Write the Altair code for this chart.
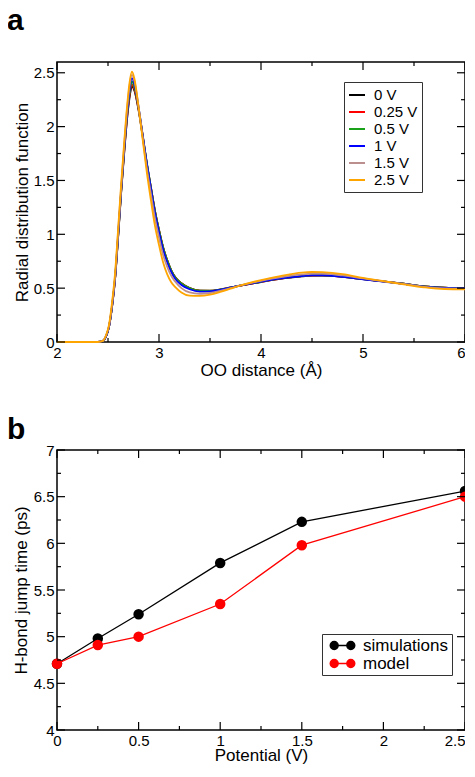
import altair as alt
import pandas as pd

FONT = "Liberation Sans"

# ---------------- panel a: radial distribution functions ----------------
r = [2.0, 2.4, 2.45, 2.48, 2.51, 2.54, 2.57, 2.6, 2.63, 2.66, 2.69, 2.71, 2.735,
     2.76, 2.8, 2.84, 2.88, 2.92, 2.96, 3.0, 3.04, 3.08, 3.12, 3.16, 3.22, 3.3,
     3.4, 3.5, 3.6, 3.7, 3.8, 4.0, 4.2, 4.4, 4.5, 4.6, 4.8, 5.0, 5.2, 5.4, 5.6,
     5.8, 6.0]

g_0V = [0, 0, 0.01, 0.05, 0.14, 0.33, 0.59, 0.98, 1.40, 1.77, 2.10, 2.26, 2.375,
        2.33, 2.15, 1.91, 1.66, 1.44, 1.22, 1.04, 0.88, 0.76, 0.665, 0.6, 0.545,
        0.50, 0.476, 0.475, 0.487, 0.505, 0.523, 0.557, 0.588, 0.61, 0.616,
        0.617, 0.605, 0.583, 0.562, 0.541, 0.517, 0.505, 0.50]
g_025V = [0, 0, 0.01, 0.05, 0.14, 0.33, 0.59, 0.99, 1.41, 1.78, 2.11, 2.28, 2.39,
          2.34, 2.16, 1.92, 1.66, 1.44, 1.22, 1.04, 0.88, 0.76, 0.665, 0.6, 0.545,
          0.50, 0.477, 0.476, 0.488, 0.506, 0.524, 0.558, 0.589, 0.611, 0.617,
          0.618, 0.606, 0.584, 0.562, 0.541, 0.517, 0.505, 0.50]
g_05V = [0, 0, 0.01, 0.05, 0.14, 0.33, 0.60, 0.99, 1.41, 1.79, 2.13, 2.30, 2.42,
         2.36, 2.17, 1.92, 1.67, 1.44, 1.22, 1.04, 0.88, 0.76, 0.665, 0.598, 0.543,
         0.50, 0.476, 0.476, 0.488, 0.506, 0.525, 0.559, 0.59, 0.612, 0.618,
         0.619, 0.606, 0.584, 0.562, 0.541, 0.516, 0.504, 0.50]
g_1V = [0, 0, 0.01, 0.05, 0.14, 0.33, 0.60, 1.00, 1.42, 1.80, 2.15, 2.33, 2.45,
        2.39, 2.18, 1.92, 1.66, 1.43, 1.20, 1.02, 0.86, 0.74, 0.65, 0.585, 0.53,
        0.49, 0.468, 0.47, 0.485, 0.505, 0.525, 0.56, 0.59, 0.612, 0.618, 0.618,
        0.605, 0.582, 0.56, 0.54, 0.515, 0.503, 0.50]
g_15V = [0, 0, 0.01, 0.06, 0.15, 0.35, 0.62, 1.03, 1.45, 1.84, 2.19, 2.37, 2.48,
         2.42, 2.18, 1.90, 1.62, 1.38, 1.15, 0.97, 0.81, 0.70, 0.615, 0.56, 0.50,
         0.46, 0.448, 0.455, 0.475, 0.50, 0.525, 0.568, 0.603, 0.627, 0.634,
         0.635, 0.618, 0.59, 0.563, 0.54, 0.512, 0.498, 0.495]
g_25V = [0, 0, 0.01, 0.06, 0.16, 0.37, 0.65, 1.06, 1.48, 1.87, 2.22, 2.40, 2.51,
         2.44, 2.18, 1.88, 1.58, 1.32, 1.08, 0.90, 0.74, 0.63, 0.555, 0.51, 0.46,
         0.43, 0.428, 0.44, 0.465, 0.495, 0.525, 0.575, 0.615, 0.645, 0.65,
         0.648, 0.63, 0.595, 0.565, 0.535, 0.508, 0.492, 0.49]

labels_a = ["0 V", "0.25 V", "0.5 V", "1 V", "1.5 V", "2.5 V"]
colors_a = ["#000000", "#ff0000", "#1aa31a", "#0000ff", "#bc8f8f", "#ffa500"]
series_a = [g_0V, g_025V, g_05V, g_1V, g_15V, g_25V]

# ---------------- panel b: H-bond jump times ----------------
potential = [0, 0.25, 0.5, 1, 1.5, 2.5]
jump_sim = [4.71, 4.98, 5.24, 5.79, 6.23, 6.56]
jump_model = [4.71, 4.91, 5.00, 5.35, 5.98, 6.50]
labels_b = ["simulations", "model"]
colors_b = ["#000000", "#ff0000"]

# axis tick positions
a_xmaj = [2, 3, 4, 5, 6]
a_xmin = [2.5, 3.5, 4.5, 5.5]
a_ymaj = [0, 0.5, 1, 1.5, 2, 2.5]
a_ymin = [0.25, 0.75, 1.25, 1.75, 2.25]
b_xmaj = [0, 0.5, 1, 1.5, 2, 2.5]
b_xmin = [0.25, 0.75, 1.25, 1.75, 2.25]
b_ymaj = [4, 4.5, 5, 5.5, 6, 6.5, 7]
b_ymin = [4.25, 4.75, 5.25, 5.75, 6.25, 6.75]

W, H = 408, 280
MAJ, MIN = 8, 4   # inward tick lengths in px

rows = []
for lab, vals in zip(labels_a, series_a):
    for rv, gv in zip(r, vals):
        rows.append({"r": rv, "g": gv, "V": lab})
df_a = pd.DataFrame(rows)

rows = []
for lab, vals in zip(labels_b, [jump_sim, jump_model]):
    for p, t in zip(potential, vals):
        rows.append({"p": p, "t": t, "series": lab})
df_b = pd.DataFrame(rows)


def tick_layers(xf, yf, xdom, ydom, xax, yax, xmaj, xmin, ymaj, ymin):
    xs = alt.Scale(domain=xdom, nice=False, zero=False)
    ys = alt.Scale(domain=ydom, nice=False, zero=False)
    ux = (xdom[1] - xdom[0]) / W   # data units per pixel
    uy = (ydom[1] - ydom[0]) / H
    layers = []
    for vals, L in [(xmaj, MAJ), (xmin, MIN)]:
        d = pd.DataFrame({xf: vals})
        base = alt.Chart(d).mark_rule(color="black", strokeWidth=1.2).encode(
            x=alt.X(f"{xf}:Q", scale=xs, axis=xax))
        layers.append(base.encode(y=alt.Y(datum=ydom[0], scale=ys, axis=yax),
                                  y2=alt.Y2(datum=ydom[0] + L * uy)))
        layers.append(base.encode(y=alt.Y(datum=ydom[1], scale=ys, axis=yax),
                                  y2=alt.Y2(datum=ydom[1] - L * uy)))
    for vals, L in [(ymaj, MAJ), (ymin, MIN)]:
        d = pd.DataFrame({yf: vals})
        base = alt.Chart(d).mark_rule(color="black", strokeWidth=1.2).encode(
            y=alt.Y(f"{yf}:Q", scale=ys, axis=yax))
        layers.append(base.encode(x=alt.X(datum=xdom[0], scale=xs, axis=xax),
                                  x2=alt.X2(datum=xdom[0] + L * ux)))
        layers.append(base.encode(x=alt.X(datum=xdom[1], scale=xs, axis=xax),
                                  x2=alt.X2(datum=xdom[1] - L * ux)))
    return xs, ys, layers


def panel_label(text, dy):
    return alt.Chart(pd.DataFrame({"lab": [text]})).mark_text(
        font=FONT, fontSize=30, fontWeight="bold", color="black",
        align="left", baseline="alphabetic",
    ).encode(text="lab:N", x=alt.value(-50), y=alt.value(dy))


# ---- panel a
xax_a = alt.Axis(values=a_xmaj, format="~g", title="OO distance (Å)",
                 ticks=False, domain=False, grid=False, labelPadding=3,
                 titlePadding=2,
                 labelAlign={"condition": {"test": "datum.value >= 6", "value": "right"},
                             "value": "center"})
yax_a = alt.Axis(values=a_ymaj, format="~g", title="Radial distribution function",
                 ticks=False, domain=False, grid=False, labelPadding=3,
                 titlePadding=2)
xs_a, ys_a, ticks_a = tick_layers("r", "g", [2, 6], [0, 2.6], xax_a, yax_a,
                                  a_xmaj, a_xmin, a_ymaj, a_ymin)

lines_a = alt.Chart(df_a).mark_line(strokeWidth=1.8, interpolate="monotone").encode(
    x=alt.X("r:Q", scale=xs_a, axis=xax_a),
    y=alt.Y("g:Q", scale=ys_a, axis=yax_a),
    color=alt.Color("V:N", scale=alt.Scale(domain=labels_a, range=colors_a),
                    legend=alt.Legend(orient="none", legendX=287, legendY=20,
                                      title=None, symbolType="stroke",
                                      symbolSize=256, symbolStrokeWidth=2,
                                      labelFont=FONT, labelFontSize=15,
                                      labelColor="black", labelOffset=8,
                                      padding=4, rowPadding=0,
                                      strokeColor="#333333", fillColor="white")),
)

panel_a = alt.layer(lines_a, *ticks_a, panel_label("a", -32)).properties(
    width=W, height=H)

# ---- panel b
xax_b = alt.Axis(values=b_xmaj, format="~g", title="Potential (V)",
                 ticks=False, domain=False, grid=False, labelPadding=3,
                 titlePadding=-1,
                 labelAlign={"condition": {"test": "datum.value >= 2.5", "value": "right"},
                             "value": "center"})
yax_b = alt.Axis(values=b_ymaj, format="~g", title="H-bond jump time (ps)",
                 ticks=False, domain=False, grid=False, labelPadding=3,
                 titlePadding=3)
xs_b, ys_b, ticks_b = tick_layers("p", "t", [0, 2.5], [4, 7], xax_b, yax_b,
                                  b_xmaj, b_xmin, b_ymaj, b_ymin)

legend_path = ("M-1.66,0L1.66,0"
               "M-2.46,0A0.8,0.8,0,1,0,-0.86,0A0.8,0.8,0,1,0,-2.46,0Z"
               "M0.86,0A0.8,0.8,0,1,0,2.46,0A0.8,0.8,0,1,0,0.86,0Z")
leg_b = alt.Legend(orient="none", legendX=265, legendY=184, title=None,
                   symbolType=legend_path, symbolSize=100, symbolStrokeWidth=1.4,
                   symbolOffset=9, labelFont=FONT, labelFontSize=17,
                   labelColor="black", labelOffset=12, padding=3, rowPadding=0,
                   strokeColor="#333333", fillColor="white")
cscale_b = alt.Scale(domain=labels_b, range=colors_b)


def series_layer(name, col):
    d = df_b[df_b["series"] == name]
    base = alt.Chart(d).encode(
        x=alt.X("p:Q", scale=xs_b, axis=xax_b),
        y=alt.Y("t:Q", scale=ys_b, axis=yax_b),
    )
    line = base.mark_line(strokeWidth=1.3, color=col)
    pts = base.mark_point(filled=True, size=72, opacity=1, shape="circle").encode(
        color=alt.Color("series:N", scale=cscale_b, legend=leg_b),
        stroke=alt.Stroke("series:N", scale=cscale_b, legend=leg_b),
    )
    return [line, pts]


panel_b = alt.layer(
    *series_layer("simulations", colors_b[0]),
    *series_layer("model", colors_b[1]),
    *ticks_b,
    panel_label("b", -11),
).properties(width=W, height=H)

chart = alt.vconcat(panel_a, panel_b, spacing=35).resolve_scale(
    color="independent", stroke="independent",
).resolve_legend(
    color="independent", stroke="independent",
).properties(
    padding={"left": -2, "top": -3, "right": -9, "bottom": 0},
    background="white",
).configure_axis(
    labelFont=FONT, titleFont=FONT, labelFontSize=15, titleFontSize=17,
    labelColor="black", titleColor="black", titleFontWeight="normal",
).configure_view(
    stroke="black", strokeWidth=1.5,
)

chart.save("out.html", embed_options={"renderer": "svg", "actions": False})
